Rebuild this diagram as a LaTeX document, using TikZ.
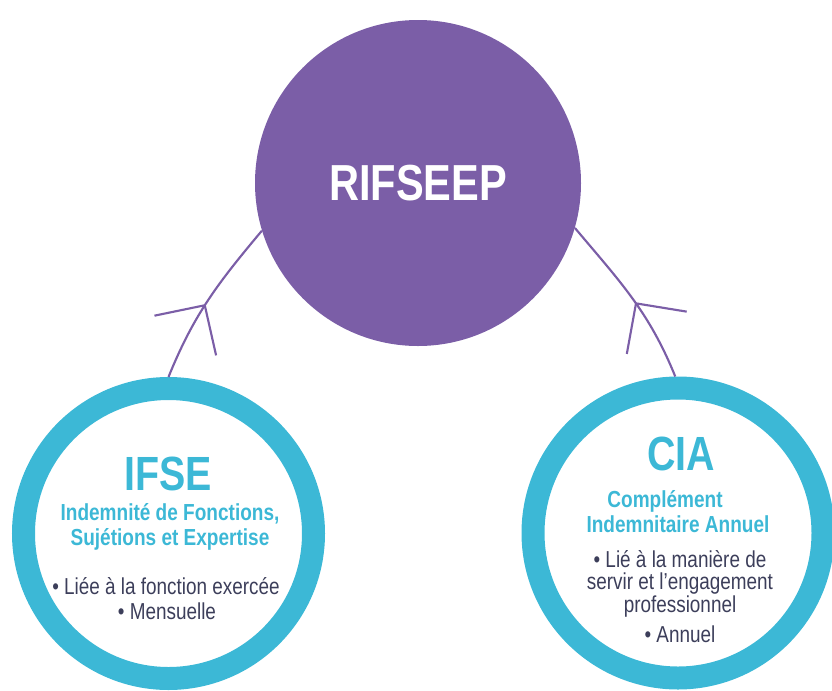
\documentclass[tikz,border=0pt]{standalone}
\usepackage{fontspec}
\setmainfont{Liberation Sans}[FakeStretch=0.82]
\usepackage{tikz}
\usetikzlibrary{arrows.meta,positioning,decorations.markings}

\definecolor{rifpurple}{HTML}{7B5EA7}
\definecolor{ringcyan}{HTML}{3CB8D6}
\definecolor{bodynavy}{HTML}{3C3E5A}

\tikzset{
  hub/.style={circle,fill=rifpurple,minimum size=244.5pt,inner sep=0pt,
    text=white,font=\bfseries\fontsize{38}{38}\selectfont},
  ring/.style={circle,draw=ringcyan,line width=17.25pt,minimum size=217.5pt,inner sep=0pt},
  link/.style={rifpurple,line width=1.6pt,postaction={decorate},
    decoration={markings,mark=at position #1 with {\arrow{Straight Barb[length=27pt,width=55pt]}}}},
  title/.style={anchor=base,inner sep=0pt,text=ringcyan,font=\bfseries\fontsize{36}{36}\selectfont},
  subline/.style={anchor=base,inner sep=0pt,text=ringcyan,font=\bfseries\fontsize{17.4}{20}\selectfont},
  item/.style={anchor=base,inner sep=0pt,text=bodynavy,font=\fontsize{17.3}{20}\selectfont}
}

\begin{document}
\begin{tikzpicture}[x=0.75pt,y=-0.75pt]
  \useasboundingbox (0,0) rectangle (832,690);
  \clip (0,0) rectangle (832,690);

  % circles
  \node[hub] (rif) at (418,183) {RIFSEEP};
  \node[ring] (ifse) at (168.5,533.5) {};
  \node[ring] (cia) at (678,533) {};

  % links up to the hub
  \draw[link=0.47] (ifse.90) to[out=68,in=230] (rif.197);
  \draw[link=0.47] (cia.91) to[out=112,in=-50] (rif.344);

  % IFSE
  \node[title] (ifse-t) at (168,490) {IFSE};
  \node[subline] (ifse-s1) at (170,520) {Indemnité de Fonctions,};
  \node[subline] (ifse-s2) at (170,545) {Sujétions et Expertise};
  \node[item] (ifse-b1) at (166,594) {• Liée à la fonction exercée};
  \node[item] (ifse-b2) at (167,619) {• Mensuelle};

  % CIA
  \node[title] (cia-t) at (681,470) {CIA};
  \node[subline] (cia-s1) at (665,507) {Complément};
  \node[subline] (cia-s2) at (678,532) {Indemnitaire Annuel};
  \node[item] (cia-b1) at (680,567) {• Lié à la manière de};
  \node[item] (cia-b2) at (680,589) {servir et l’engagement};
  \node[item] (cia-b3) at (680,612) {professionnel};
  \node[item] (cia-b4) at (680,642) {• Annuel};
\end{tikzpicture}
\end{document}
